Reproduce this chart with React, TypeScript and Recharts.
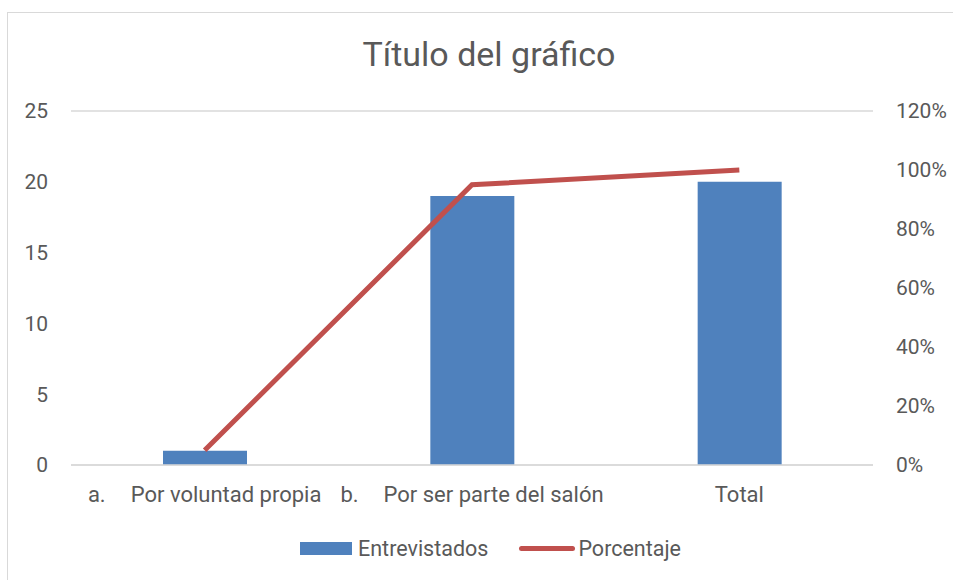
import { ComposedChart, Bar, Line, XAxis, YAxis, CartesianGrid } from 'recharts';

const categories = ['a.\tPor voluntad propia', 'b.\tPor ser parte del salón', 'Total'];
const entrevistados = [1, 19, 20];
const porcentaje = [0.05, 0.95, 1];
const leftTicks = [0, 5, 10, 15, 20, 25];
const rightTicks = [0, 0.2, 0.4, 0.6, 0.8, 1, 1.2];

const data = categories.map((name, i) => ({
  name,
  entrevistados: entrevistados[i],
  porcentaje: porcentaje[i],
}));

const FONT = "Roboto, 'Noto Sans', sans-serif";
const GRAY = '#595959';
const BLUE = '#4f81bd';
const RED = '#c0504d';

// Excel-style "a.<tab>label" ticks: list marker, gap, then the text
const CategoryTick = (props: any) => {
  const { x, y, payload } = props;
  const parts = String(payload.value).split('\t');
  return (
    <text
      x={x}
      y={y}
      dy="0.71em"
      textAnchor="middle"
      fill={GRAY}
      fontSize={22}
      fontFamily={FONT}
    >
      {parts.length > 1 ? (
        <>
          <tspan>{parts[0]}</tspan>
          <tspan dx={25}>{parts[1]}</tspan>
        </>
      ) : (
        parts[0]
      )}
    </text>
  );
};

export default function App() {
  return (
    <div style={{ position: 'absolute', left: 0, top: 0, width: 953, height: 580, background: '#fff', overflow: 'hidden' }}>
      <div
        style={{
          position: 'absolute',
          left: 7,
          top: 12,
          width: 960,
          height: 600,
          border: '1px solid #d9d9d9',
        }}
      />
      <div
        style={{
          position: 'absolute',
          left: 0,
          width: 978,
          top: 34,
          textAlign: 'center',
          fontFamily: FONT,
          fontSize: 34,
          lineHeight: '40px',
          color: GRAY,
        }}
      >
        Título del gráfico
      </div>
      <div style={{ position: 'absolute', left: 0, top: 0 }}>
        <ComposedChart
          width={953}
          height={580}
          data={data}
          margin={{ top: 111, right: 20, bottom: 55, left: 11 }}
        >
          <CartesianGrid vertical={false} stroke="#d9d9d9" strokeWidth={1.5} />
          <XAxis
            dataKey="name"
            axisLine={{ stroke: '#d9d9d9', strokeWidth: 1.5 }}
            tickLine={false}
            tickSize={0}
            tickMargin={21}
            height={60}
            interval={0}
            tick={<CategoryTick />}
          />
          <YAxis
            yAxisId="left"
            domain={[0, 25]}
            ticks={leftTicks}
            width={60}
            axisLine={false}
            tickLine={false}
            tickSize={0}
            tickMargin={23}
            tick={{ fill: GRAY, fontSize: 21, fontFamily: FONT }}
          />
          <YAxis
            yAxisId="right"
            orientation="right"
            domain={[0, 1.2]}
            ticks={rightTicks}
            width={60}
            axisLine={false}
            tickLine={false}
            tickSize={0}
            tickMargin={23}
            tickFormatter={(v: number) => `${Math.round(v * 100)}%`}
            tick={{ fill: GRAY, fontSize: 21, fontFamily: FONT, textAnchor: 'start' }}
          />
          <Bar
            yAxisId="left"
            dataKey="entrevistados"
            name="Entrevistados"
            fill={BLUE}
            barSize={84}
            isAnimationActive={false}
          />
          <Line
            yAxisId="right"
            dataKey="porcentaje"
            name="Porcentaje"
            type="linear"
            stroke={RED}
            strokeWidth={5}
            dot={false}
            activeDot={false}
            isAnimationActive={false}
          />
        </ComposedChart>
      </div>
      <div
        style={{
          position: 'absolute',
          top: 536,
          left: 300,
          display: 'flex',
          alignItems: 'center',
          fontFamily: FONT,
          fontSize: 21.5,
          color: GRAY,
          whiteSpace: 'nowrap',
        }}
      >
        <span style={{ display: 'inline-block', width: 52, height: 13, background: BLUE, marginRight: 6 }} />
        <span>Entrevistados</span>
        <span
          style={{
            display: 'inline-block',
            width: 56,
            height: 5,
            borderRadius: 3,
            background: RED,
            marginLeft: 31,
            marginRight: 3,
          }}
        />
        <span>Porcentaje</span>
      </div>
    </div>
  );
}
